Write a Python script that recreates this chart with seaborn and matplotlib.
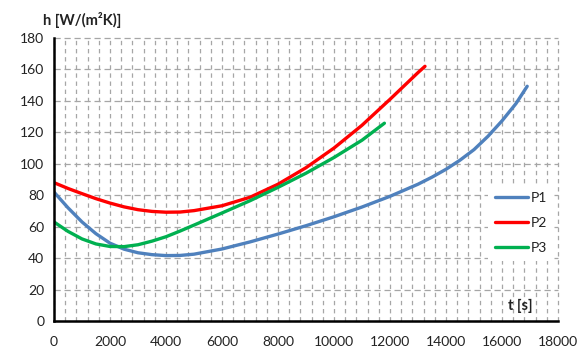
import matplotlib
matplotlib.use("Agg")
import matplotlib.pyplot as plt
from matplotlib.ticker import MultipleLocator
import seaborn as sns
import pandas as pd

# ---- data ----
t_p1 = [0, 500, 1000, 1500, 2000, 2500, 3000, 3500, 4000, 4500, 5000, 6000, 7000,
        8000, 9000, 10000, 11000, 12000, 13000, 13500, 14000, 14500, 15000, 15500,
        16000, 16500, 16900]
h_p1 = [82, 72, 63, 55.5, 49.5, 45.7, 43.4, 42.2, 41.6, 41.7, 42.5, 45.8, 50.3,
        55.3, 60.6, 66.3, 72.5, 79.3, 87, 91.5, 96.5, 102.3, 109, 117.5,
        127.3, 138.3, 149.3]

t_p2 = [0, 500, 1000, 1500, 2000, 2500, 3000, 3500, 4000, 4500, 5000, 6000, 7000,
        8000, 9000, 10000, 11000, 12000, 13000, 13250]
h_p2 = [88, 84.3, 81, 77.8, 75, 72.6, 70.8, 69.7, 69.2, 69.3, 70.2, 73.3, 78.7,
        87, 97.5, 110, 124.5, 141, 158, 162]

t_p3 = [0, 500, 1000, 1500, 2000, 2500, 3000, 3500, 4000, 4500, 5000, 6000, 7000,
        8000, 9000, 10000, 11000, 11800]
h_p3 = [63, 57, 52.2, 49, 47.4, 47.3, 48.5, 50.8, 53.6, 57.2, 61, 68.7, 76.5,
        85, 94, 104, 115, 125.8]

series_names = ["P1", "P2", "P3"]
series_colors = ["#4F81BD", "#FF0000", "#00B050"]
x_ticks = list(range(0, 18001, 2000))
y_ticks = list(range(0, 181, 20))
y_title = "h [W/(m²K)]"
x_title = "t [s]"

df = pd.concat([
    pd.DataFrame({"t": t_p1, "h": h_p1, "series": "P1"}),
    pd.DataFrame({"t": t_p2, "h": h_p2, "series": "P2"}),
    pd.DataFrame({"t": t_p3, "h": h_p3, "series": "P3"}),
], ignore_index=True)

sns.set_theme(style="white")
plt.rcParams["font.family"] = ["Lato", "DejaVu Sans"]

W, H = 579, 349
fig = plt.figure(figsize=(W / 100, H / 100), dpi=100)
ax = fig.add_axes([54 / W, 1 - 321 / H, (558 - 54) / W, (321 - 38) / H])

sns.lineplot(data=df, x="t", y="h", hue="series", hue_order=series_names,
             palette=series_colors, sort=False, estimator=None, linewidth=2.4,
             ax=ax, legend=False)

ax.set_xlim(0, 18000)
ax.set_ylim(0, 180)
ax.set_xticks(x_ticks)
ax.set_yticks(y_ticks)
ax.xaxis.set_minor_locator(MultipleLocator(400))
ax.tick_params(axis="both", which="major", direction="out", length=4, width=1.5,
               color="black", labelsize=10, labelcolor="#222222", pad=3)
ax.tick_params(axis="x", which="major", pad=7)
ax.tick_params(axis="x", which="minor", length=0)

ax.set_axisbelow(True)
ax.yaxis.grid(True, which="major", linestyle=(0, (5, 3)), color="#A6A6A6", lw=0.9)
ax.xaxis.grid(True, which="both", linestyle=(0, (3.5, 3)), color="#A6A6A6", lw=0.9)
for tick in ax.xaxis.get_major_ticks() + ax.xaxis.get_minor_ticks() + ax.yaxis.get_major_ticks():
    tick.gridline.set_clip_on(False)

for s in ["top", "right"]:
    ax.spines[s].set_visible(False)
for s in ["left", "bottom"]:
    ax.spines[s].set_color("black")
    ax.spines[s].set_linewidth(1.8)
ax.set_xlabel("")
ax.set_ylabel("")

handles = ax.get_lines()[:3]
leg = ax.legend(handles, series_names, loc="upper left",
                bbox_to_anchor=(488 / W, 1 - 185 / H), bbox_transform=fig.transFigure,
                frameon=True, fancybox=False, framealpha=1, facecolor="white",
                edgecolor="none", fontsize=10, handlelength=2.4, handletextpad=0.15,
                labelspacing=0.95, borderpad=0.5, borderaxespad=0)
for txt in leg.get_texts():
    txt.set_color("#222222")

fig.text(43 / W, 1 - 19.5 / H, y_title, ha="left", va="center", fontsize=10.5,
         fontweight="bold", color="#222222")
fig.text(508 / W, 1 - 306 / H, x_title, ha="left", va="center", fontsize=10.5,
         fontweight="bold", color="#222222")

fig.savefig("out.png", dpi=100)
